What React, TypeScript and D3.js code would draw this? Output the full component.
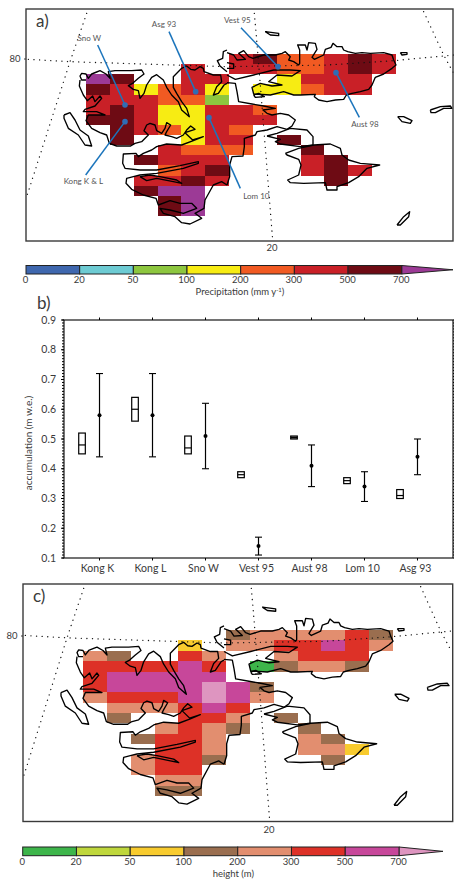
import * as d3 from "d3";
import React from "react";

// map cells, one string per grid row, one character per column ('.' = no cell)
const precipCells = [
  "......5644565",
  "....5.5544565",
  "76..55..3555.",
  "653453.33455.",
  "555442.......",
  "56533554.....",
  "66533555.....",
  ".654354......",
  ".6..355.6....",
  "...5444..6...",
  "..6555...56..",
  "...456...565.",
  "..5565....6..",
  "..677........",
  "...67........",
  "...67........",
];
const heightCells = [
  "......3444453",
  "....2.4455654",
  "43..54..4555.",
  "555565.03443.",
  "566666.......",
  "56666763.....",
  "45556764.....",
  ".444565......",
  ".3..554.3....",
  "...4543..3...",
  "..3554...43..",
  "...554...442.",
  "..4553....3..",
  "..455........",
  "...44........",
  "...33........",
];

const precipColors = ["#3f67ae", "#6dcbd3", "#8dc63f", "#f7ec13", "#f15a22", "#c92027", "#6e0b14", "#9c3a96"];
const heightColors = ["#3db54a", "#bfd73c", "#f8cb2e", "#9a6e4f", "#e28e6f", "#dd3127", "#c7479a", "#de95c0"];
const barTicks = ["0", "20", "50", "100", "200", "300", "500", "700"];

// coastline, map units
const coastWest: number[][][] = [
  [[258,240],[245,240],[240,228],[245,220],[258,222],[265,235],[275,222],[290,216],[300,212],[318,222],[330,235],[325,215],[345,212],[395,212],[425,210],[432,222],[415,235],[398,250],[385,257],[400,268],[415,272],[420,295],[432,280],[440,255],[455,232],[470,224],[490,240],[500,262],[515,285],[535,305],[545,330],[568,350],[560,325],[545,305],[530,280],[520,262],[520,230],[545,205],[560,198],[572,208],[585,210],[600,200],[610,205],[612,215],[640,225],[662,225],[665,245],[650,260],[640,285],[655,280],[672,255],[681,250]],
  [[240,240],[238,258],[250,285],[262,302],[278,288],[285,305],[300,288],[305,295],[285,318],[255,328],[250,335],[290,335],[315,345],[265,345],[258,362],[275,385],[300,398],[320,405],[328,430],[350,438],[392,438],[405,430],[425,425],[445,405],[432,392],[440,375],[450,370],[465,375],[470,392],[485,400],[495,385],[500,368],[512,375],[500,395],[495,405],[515,410],[530,415],[550,405],[560,390],[572,378],[585,388],[555,398],[578,420],[610,410],[580,422],[545,435],[500,432],[470,440],[455,450],[430,460],[415,470],[408,460],[370,462],[368,490],[375,505],[420,510],[470,510],[540,497],[595,485],[595,490],[550,505],[470,520],[420,525],[400,530],[380,535],[378,550],[395,568],[430,585],[468,595],[475,615],[510,602],[540,610],[575,610],[590,625],[550,640],[510,630],[480,625],[490,640],[525,650],[545,668],[570,672],[605,655],[585,640],[612,625],[615,600],[640,555],[665,545],[681,555]],
  [[420,530],[440,542],[470,535],[520,545],[545,550],[530,540],[480,530],[450,525],[420,530]],
  [[192,345],[210,338],[225,360],[240,390],[265,408],[275,438],[255,435],[235,405],[205,385],[192,355],[192,345]],
  [[681,215],[660,198],[652,182],[668,175],[670,155],[681,150]],
];
const coastEast: number[][][] = [
  [[0,555],[8,530],[8,495],[15,470],[48,468],[52,440],[52,415],[85,405],[90,395],[120,390],[150,380],[180,388],[195,378],[205,360],[185,345],[160,340],[135,345],[120,340],[108,330],[145,325],[110,318],[75,312],[35,305],[30,275],[25,250],[0,248]],
  [[0,158],[20,165],[30,180],[55,178],[35,160],[50,152],[65,170],[78,175],[110,165],[145,165],[165,160],[175,155],[190,170],[185,180],[200,185],[215,195],[218,190],[218,150],[212,135],[235,135],[240,150],[245,128],[265,130],[270,148],[255,172],[262,178],[290,165],[295,148],[312,142],[318,130],[330,140],[345,140],[350,150],[362,155],[385,160],[405,158],[430,160],[470,158],[495,165],[500,180],[507,195],[495,205],[470,222],[445,232],[435,255],[425,268],[400,275],[375,280],[358,285],[350,298],[325,300],[300,305],[275,300],[262,290],[265,283],[220,285],[200,285],[170,275],[130,285],[80,282],[75,262],[100,250],[135,258],[165,255],[125,245],[150,225],[195,228],[220,212],[190,210],[140,210],[80,225],[25,238],[0,225]],
  [[0,188],[20,192],[20,205],[0,205]],
  [[80,285],[95,280],[112,290],[85,292],[80,285]],
  [[120,408],[150,400],[190,385],[240,390],[258,410],[258,435],[220,440],[160,432],[145,425],[160,418],[120,408]],
  [[175,460],[215,445],[260,435],[310,432],[340,445],[345,465],[365,480],[400,490],[458,495],[420,505],[395,530],[365,548],[330,560],[330,570],[300,570],[295,548],[230,550],[190,548],[182,540],[215,525],[222,495],[215,478],[180,465],[175,460]],
  [[115,95],[155,100],[155,107],[130,105],[115,95]],
  [[520,158],[540,158],[540,163],[525,165],[520,158]],
  [[610,330],[640,320],[670,318],[675,325],[650,325],[625,338],[612,338],[610,330]],
  [[512,350],[530,350],[555,362],[550,370],[525,365],[512,350]],
  [[510,675],[530,650],[548,635],[545,650],[520,675],[510,675]],
];
const coast = [...coastWest, ...coastEast.map((l) => l.map(([x, y]) => [x + 681, y]))];

const graticule: number[][][] = [
  [[85,178],[210,185],[681,200],[981,195],[1181,182],[1361,165]],
  [[260,40],[210,185],[80,590]],
  [[763,40],[771,130],[818,720]],
  [[1271,35],[1331,165],[1361,220]],
];

// callouts on the first map: name, label position, line end, dot
const siteNames = ["Sno W", "Kong K & L", "Asg 93", "Lom 10", "Vest 95", "Aust 98"];
const siteLabels = [[268,122],[250,553],[492,80],[769,596],[712,70],[1095,380]];
const siteLineEnds = [[293,135],[257,525],[507,95],[721,565],[723,83],[1078,352]];
const siteDots = [[375,315],[375,365],[587,275],[627,353],[834,200],[1008,218]];

// accumulation panel
const glaciers = ["Kong K", "Kong L", "Sno W", "Vest 95", "Aust 98", "Lom 10", "Asg 93"];
const boxLow = [0.45, 0.56, 0.45, 0.37, 0.5, 0.35, 0.3];
const boxMid = [0.48, 0.6, 0.47, 0.38, 0.505, 0.36, 0.31];
const boxHigh = [0.52, 0.64, 0.51, 0.39, 0.51, 0.37, 0.33];
const errLow = [0.44, 0.44, 0.4, 0.11, 0.34, 0.29, 0.38];
const errMean = [0.58, 0.58, 0.51, 0.14, 0.41, 0.34, 0.44];
const errHigh = [0.72, 0.72, 0.62, 0.17, 0.48, 0.39, 0.5];

const FONT = "Lato, 'Noto Sans', sans-serif";
const INK = "#3a3a3a";

const coastLine = d3.line();

function MapPanel({ cells, colors, xr, yr, frame, panel, panelY, label80, label20, children }: any) {
  const x = d3.scaleLinear().domain([258, 1188]).range(xr);
  const y = d3.scaleLinear().domain([162, 648]).range(yr);
  const col = d3.scaleBand().domain(d3.range(13).map(String)).range(xr);
  const row = d3.scaleBand().domain(d3.range(16).map(String)).range(yr);
  const project = (l: number[][]) => l.map(([a, b]) => [x(a), y(b)] as [number, number]);
  return (
    <g>
      {cells.map((r: string, i: number) =>
        r.split("").map((c, j) =>
          c === "." ? null : (
            <rect key={i + "-" + j} x={col(String(j))} y={row(String(i))} width={col.bandwidth()} height={row.bandwidth()}
              fill={colors[+c]} shapeRendering="crispEdges" />
          )
        )
      )}
      {graticule.map((l, i) => (
        <path key={i} d={d3.line()(project(l)) as string} fill="none" stroke="#111" strokeWidth={1.3}
          strokeLinecap="round" strokeDasharray="0.1 5.5" />
      ))}
      {coast.map((l, i) => (
        <path key={i} d={coastLine(project(l)) as string} fill="none" stroke="#000" strokeWidth={1.35} strokeLinejoin="round" />
      ))}
      <rect x={frame[0]} y={frame[1]} width={frame[2] - frame[0]} height={frame[3] - frame[1]} fill="none" stroke={INK} strokeWidth={1.4} />
      <text x={frame[0] + 10} y={panelY} fontSize={17} fill={INK} fontFamily={FONT}>{panel}</text>
      <line x1={frame[0] - 2} x2={frame[0]} y1={label80 - 3} y2={label80 - 3} stroke={INK} />
      <text x={frame[0] - 11} y={label80} textAnchor="middle" fontSize={9.5} fill={INK} fontFamily={FONT}>80</text>
      <text x={label20[0]} y={label20[1]} textAnchor="middle" fontSize={9.5} fill={INK} fontFamily={FONT}>20</text>
      {children && children(x, y)}
    </g>
  );
}

function ColorBar({ colors, xr, tip, y0, y1, title }: any) {
  const x = d3.scaleLinear().domain([0, 7]).range(xr);
  const mid = (y0 + y1) / 2;
  return (
    <g>
      <path d={`M${xr[1]},${y0}L${tip},${mid}L${xr[1]},${y1}Z`} fill={colors[7]} stroke="#222" strokeWidth={1} />
      {d3.range(7).map((i) => (
        <rect key={i} x={x(i)} y={y0} width={x(i + 1) - x(i)} height={y1 - y0} fill={colors[i]} stroke="#222" strokeWidth={1} />
      ))}
      {barTicks.map((t, i) => (
        <text key={t} x={x(i) - 0.5} y={y1 + 9} textAnchor="middle" fontSize={9.5} fill={INK} fontFamily={FONT}>{t}</text>
      ))}
      <text x={(xr[0] + tip) / 2 + 0.5} y={y1 + 21} textAnchor="middle" fontSize={9.5} fill={INK} fontFamily={FONT}>{title}</text>
    </g>
  );
}

function AccumulationPanel() {
  const x = d3.scaleLinear().domain([-0.67, 6.67]).range([64, 453]);
  const y = d3.scaleLinear().domain([0.1, 0.9]).range([558, 320]);
  const minor = d3.range(0, 81).map((i) => 0.1 + i * 0.01);
  const major = y.ticks(8);
  const capW = 3.5;
  return (
    <g fontFamily={FONT}>
      <rect x={64} y={320} width={389} height={238} fill="none" stroke="#000" strokeWidth={1.1} />
      {minor.map((t) => (
        <g key={t} stroke="#000" strokeWidth={1}>
          <line x1={62} x2={64} y1={y(t)} y2={y(t)} />
          <line x1={453} x2={454} y1={y(t)} y2={y(t)} />
        </g>
      ))}
      {major.map((t) => (
        <g key={t}>
          <line x1={61} x2={64} y1={y(t)} y2={y(t)} stroke="#000" />
          <text x={56} y={y(t) + 3.5} textAnchor="end" fontSize={10.5} fill={INK}>{t.toFixed(1)}</text>
        </g>
      ))}
      <text transform="translate(32,443) rotate(-90)" textAnchor="middle" fontSize={10} fill={INK}>accumulation (m w.e.)</text>
      {glaciers.map((g, i) => (
        <g key={g}>
          <line x1={x(i)} x2={x(i)} y1={317.5} y2={320} stroke="#000" />
          <line x1={x(i)} x2={x(i)} y1={558} y2={560.5} stroke="#000" />
          <text x={x(i) - 2} y={572} textAnchor="middle" fontSize={10.5} fill={INK}>{g}</text>
          <rect x={x(i - 0.33) - 3.3} y={y(boxHigh[i])} width={6.6} height={y(boxLow[i]) - y(boxHigh[i])}
            fill={g === "Aust 98" ? "#999" : "none"} stroke="#000" strokeWidth={1.2} />
          <line x1={x(i - 0.33) - 3.3} x2={x(i - 0.33) + 3.3} y1={y(boxMid[i])} y2={y(boxMid[i])} stroke="#000" strokeWidth={1.2} />
          <line x1={x(i)} x2={x(i)} y1={y(errLow[i])} y2={y(errHigh[i])} stroke="#000" strokeWidth={1.2} />
          <line x1={x(i) - capW} x2={x(i) + capW} y1={y(errLow[i])} y2={y(errLow[i])} stroke="#000" strokeWidth={1.1} />
          <line x1={x(i) - capW} x2={x(i) + capW} y1={y(errHigh[i])} y2={y(errHigh[i])} stroke="#000" strokeWidth={1.1} />
          <circle cx={x(i)} cy={y(errMean[i])} r={2} fill="#000" />
        </g>
      ))}
      <text x={37} y={309} fontSize={17} fill={INK}>b)</text>
    </g>
  );
}

export default function App() {
  return (
    <svg width={454} height={881} style={{ position: "absolute", left: 0, top: 0, background: "#fff" }}>
      <MapPanel cells={precipCells} colors={precipColors} xr={[86, 396]} yr={[54, 216]} frame={[26, 9, 453, 241]}
        panel="a)" panelY={27} label80={62} label20={[272, 251]}>
        {(x: any, y: any) =>
          siteNames.map((s, i) => (
            <g key={s}>
              <line x1={x(siteLineEnds[i][0])} y1={y(siteLineEnds[i][1])} x2={x(siteDots[i][0])} y2={y(siteDots[i][1])}
                stroke="#1c75bc" strokeWidth={1.5} />
              <circle cx={x(siteDots[i][0])} cy={y(siteDots[i][1])} r={2.8} fill="#2f6db5" />
              <text x={x(siteLabels[i][0])} y={y(siteLabels[i][1])} textAnchor="middle" fontSize={8} fill="#555" fontFamily={FONT}>{s}</text>
            </g>
          ))
        }
      </MapPanel>
      <ColorBar colors={precipColors} xr={[26, 401.7]} tip={453} y0={265.5} y1={274}
        title={<>Precipitation (mm y<tspan dy={-3} fontSize={6}>-1</tspan><tspan dy={3}>)</tspan></>} />
      <AccumulationPanel />
      <MapPanel cells={heightCells} colors={heightColors} xr={[83, 393]} yr={[630, 796]} frame={[23, 584, 452.7, 821.5]}
        panel="c)" panelY={602} label80={639} label20={[269, 833]} />
      <ColorBar colors={heightColors} xr={[22.7, 399]} tip={443} y0={847} y1={855.7} title="height (m)" />
    </svg>
  );
}
